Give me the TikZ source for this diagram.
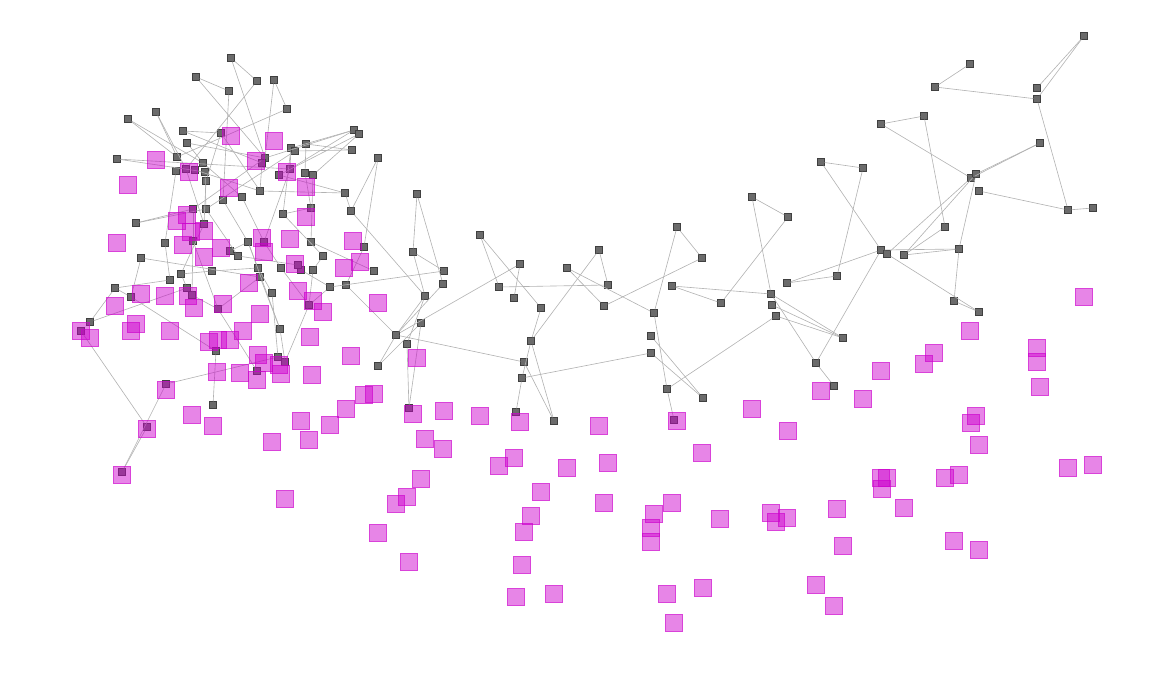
\documentclass[tikz,border=0pt]{standalone}
\usepackage{tikz}
\tikzset{%
    gvtx/.style={inner sep=0pt,minimum size=0.13cm,rectangle,fill=black!58,draw=black!75,line width=0.5pt},
    pvtx/.style={inner sep=0pt,minimum size=0.35cm,rectangle,fill={rgb,255:red,204;green,0;blue,204},fill opacity=0.48,draw={rgb,255:red,204;green,0;blue,204},draw opacity=0.5,line width=0.6pt}
}
\begin{document}
\begin{tikzpicture}[x=0.02cm,y=-0.02cm]
        \useasboundingbox (0,0) rectangle (1152,678);
        % left cluster
        \node[gvtx] (g1) at (231,58){}; \node[gvtx] (g2) at (196,77){}; \node[gvtx] (g3) at (257,81){};
        \node[gvtx] (g4) at (274,80){}; \node[gvtx] (g5) at (229,91){}; \node[gvtx] (g6) at (287,109){};
        \node[gvtx] (g7) at (156,112){}; \node[gvtx] (g8) at (128,119){}; \node[gvtx] (g9) at (183,131){};
        \node[gvtx] (g10) at (221,133){}; \node[gvtx] (g11) at (354,130){}; \node[gvtx] (g12) at (359,134){};
        \node[gvtx] (g13) at (187,143){}; \node[gvtx] (g14) at (306,144){}; \node[gvtx] (g15) at (291,148){};
        \node[gvtx] (g16) at (295,151){}; \node[gvtx] (g17) at (352,150){}; \node[gvtx] (g18) at (117,159){};
        \node[gvtx] (g19) at (177,157){}; \node[gvtx] (g20) at (203,163){}; \node[gvtx] (g21) at (265,158){};
        \node[gvtx] (g22) at (378,158){}; \node[gvtx] (g23) at (262,163){}; \node[gvtx] (g24) at (186,169){};
        \node[gvtx] (g25) at (195,170){}; \node[gvtx] (g26) at (176,171){}; \node[gvtx] (g27) at (205,172){};
        \node[gvtx] (g28) at (290,169){}; \node[gvtx] (g29) at (279,175){}; \node[gvtx] (g30) at (305,173){};
        \node[gvtx] (g31) at (313,175){}; \node[gvtx] (g32) at (206,181){}; \node[gvtx] (g33) at (260,191){};
        \node[gvtx] (g34) at (345,193){}; \node[gvtx] (g35) at (223,200){}; \node[gvtx] (g36) at (242,197){};
        \node[gvtx] (g37) at (417,194){}; \node[gvtx] (g38) at (193,209){}; \node[gvtx] (g39) at (206,209){};
        \node[gvtx] (g40) at (311,208){}; \node[gvtx] (g41) at (283,214){}; \node[gvtx] (g42) at (351,211){};
        \node[gvtx] (g43) at (136,223){}; \node[gvtx] (g44) at (204,224){}; \node[gvtx] (g45) at (165,243){};
        \node[gvtx] (g46) at (193,241){}; \node[gvtx] (g47) at (248,242){}; \node[gvtx] (g48) at (264,242){};
        \node[gvtx] (g49) at (311,242){}; \node[gvtx] (g50) at (364,247){}; \node[gvtx] (g51) at (141,258){};
        \node[gvtx] (g52) at (238,256){}; \node[gvtx] (g53) at (323,256){}; \node[gvtx] (g54) at (413,252){};
        \node[gvtx] (g55) at (258,268){}; \node[gvtx] (g56) at (281,268){}; \node[gvtx] (g57) at (301,270){};
        \node[gvtx] (g58) at (313,270){}; \node[gvtx] (g59) at (298,265){}; \node[gvtx] (g60) at (374,271){};
        \node[gvtx] (g61) at (181,274){}; \node[gvtx] (g62) at (170,280){}; \node[gvtx] (g63) at (260,277){};
        \node[gvtx] (g64) at (346,285){}; \node[gvtx] (g65) at (330,287){}; \node[gvtx] (g66) at (115,288){};
        \node[gvtx] (g67) at (187,288){}; \node[gvtx] (g68) at (272,293){}; \node[gvtx] (g69) at (131,297){};
        \node[gvtx] (g70) at (192,295){}; \node[gvtx] (g71) at (425,296){}; \node[gvtx] (g72) at (444,271){};
        \node[gvtx] (g73) at (443,284){}; \node[gvtx] (g74) at (309,305){}; \node[gvtx] (g75) at (218,309){};
        \node[gvtx] (g76) at (90,322){}; \node[gvtx] (g77) at (81,331){}; \node[gvtx] (g78) at (280,329){};
        \node[gvtx] (g79) at (396,335){}; \node[gvtx] (g80) at (421,323){}; \node[gvtx] (g81) at (407,344){};
        \node[gvtx] (g82) at (216,351){}; \node[gvtx] (g83) at (378,366){}; \node[gvtx] (g84) at (278,357){};
        \node[gvtx] (g85) at (285,362){}; \node[gvtx] (g86) at (257,371){}; \node[gvtx] (g87) at (166,384){};
        \node[gvtx] (g88) at (213,405){}; \node[gvtx] (g89) at (409,408){}; \node[gvtx] (g90) at (147,427){};
        \node[gvtx] (g91) at (122,472){}; \node[gvtx] (g148) at (230,251){}; \node[gvtx] (g149) at (212,271){};
        % middle
        \node[gvtx] (g92) at (480,235){}; \node[gvtx] (g93) at (520,264){}; \node[gvtx] (g94) at (499,287){};
        \node[gvtx] (g95) at (514,298){}; \node[gvtx] (g96) at (541,308){}; \node[gvtx] (g97) at (531,341){};
        \node[gvtx] (g98) at (524,362){}; \node[gvtx] (g99) at (522,378){}; \node[gvtx] (g100) at (516,412){};
        \node[gvtx] (g101) at (554,421){}; \node[gvtx] (g102) at (567,268){}; \node[gvtx] (g103) at (599,250){};
        \node[gvtx] (g104) at (608,285){}; \node[gvtx] (g105) at (604,306){}; \node[gvtx] (g106) at (677,227){};
        \node[gvtx] (g107) at (702,258){}; \node[gvtx] (g108) at (672,286){}; \node[gvtx] (g109) at (654,313){};
        \node[gvtx] (g110) at (651,336){}; \node[gvtx] (g111) at (651,353){}; \node[gvtx] (g112) at (667,389){};
        \node[gvtx] (g113) at (703,398){}; \node[gvtx] (g114) at (674,420){}; \node[gvtx] (g115) at (721,303){};
        % right
        \node[gvtx] (g116) at (752,197){}; \node[gvtx] (g117) at (788,217){}; \node[gvtx] (g118) at (771,294){};
        \node[gvtx] (g119) at (772,305){}; \node[gvtx] (g120) at (776,316){}; \node[gvtx] (g121) at (787,283){};
        \node[gvtx] (g122) at (837,276){}; \node[gvtx] (g123) at (843,338){}; \node[gvtx] (g124) at (816,363){};
        \node[gvtx] (g125) at (834,386){}; \node[gvtx] (g126) at (821,162){}; \node[gvtx] (g127) at (863,168){};
        \node[gvtx] (g128) at (881,250){}; \node[gvtx] (g129) at (887,254){}; \node[gvtx] (g130) at (904,255){};
        \node[gvtx] (g131) at (959,249){}; \node[gvtx] (g132) at (945,227){}; \node[gvtx] (g133) at (954,301){};
        \node[gvtx] (g134) at (979,312){}; \node[gvtx] (g135) at (881,124){}; \node[gvtx] (g136) at (924,116){};
        \node[gvtx] (g137) at (971,178){}; \node[gvtx] (g138) at (976,174){}; \node[gvtx] (g139) at (979,191){};
        \node[gvtx] (g140) at (1040,143){}; \node[gvtx] (g141) at (1068,210){}; \node[gvtx] (g142) at (1093,208){};
        \node[gvtx] (g143) at (935,87){}; \node[gvtx] (g144) at (970,64){}; \node[gvtx] (g145) at (1037,88){};
        \node[gvtx] (g146) at (1037,99){}; \node[gvtx] (g147) at (1084,36){};
        \path[every edge/.style={draw=black!30,line width=0.35pt}]
            (g1) edge (g3) (g1) edge (g21) (g2) edge (g5) (g2) edge (g21) (g3) edge (g24)
            (g4) edge (g6) (g4) edge (g21) (g5) edge (g35) (g6) edge (g19) (g7) edge (g19)
            (g7) edge (g24) (g8) edge (g19) (g8) edge (g20) (g9) edge (g10) (g9) edge (g23)
            (g10) edge (g32) (g11) edge (g15) (g11) edge (g28) (g11) edge (g21) (g12) edge (g29)
            (g12) edge (g31) (g14) edge (g30) (g15) edge (g28) (g16) edge (g17) (g13) edge (g21)
            (g18) edge (g27) (g18) edge (g28) (g22) edge (g42) (g22) edge (g50) (g37) edge (g54)
            (g37) edge (g73) (g54) edge (g71) (g54) edge (g72) (g42) edge (g71) (g43) edge (g38)
            (g43) edge (g39) (g51) edge (g63) (g51) edge (g69) (g66) edge (g76) (g76) edge (g67)
            (g66) edge (g69) (g69) edge (g82) (g82) edge (g88) (g87) edge (g84) (g87) edge (g91)
            (g90) edge (g91) (g77) edge (g90) (g78) edge (g63) (g79) edge (g83) (g80) edge (g83)
            (g81) edge (g89) (g80) edge (g89) (g71) edge (g79) (g71) edge (g81) (g72) edge (g65)
            (g50) edge (g64) (g49) edge (g60) (g29) edge (g34) (g33) edge (g34) (g40) edge (g41)
            (g41) edge (g53) (g20) edge (g36) (g25) edge (g33) (g26) edge (g45) (g27) edge (g39)
            (g32) edge (g44) (g35) edge (g47) (g36) edge (g48) (g38) edge (g46) (g39) edge (g52)
            (g44) edge (g61) (g45) edge (g62) (g46) edge (g70) (g47) edge (g55) (g48) edge (g56)
            (g52) edge (g59) (g53) edge (g58) (g55) edge (g68) (g56) edge (g74) (g57) edge (g65)
            (g61) edge (g67) (g62) edge (g66) (g68) edge (g84) (g70) edge (g75) (g75) edge (g86)
            (g78) edge (g85) (g74) edge (g65) (g23) edge (g33) (g30) edge (g40) (g31) edge (g49)
            (g14) edge (g17) (g15) edge (g41) (g21) edge (g38) (g24) edge (g44) (g10) edge (g33)
            (g28) edge (g48) (g13) edge (g20) (g16) edge (g39) (g34) edge (g42) (g47) edge (g78)
            (g58) edge (g74) (g85) edge (g74) (g75) edge (g46) (g75) edge (g63) (g148) edge (g52)
            (g149) edge (g61) (g148) edge (g47) (g149) edge (g55) (g73) edge (g79) (g93) edge (g79)
            (g79) edge (g98) (g64) edge (g79)
            (g92) edge (g94) (g92) edge (g96) (g93) edge (g95) (g94) edge (g104) (g96) edge (g97)
            (g97) edge (g103) (g97) edge (g101) (g98) edge (g101) (g99) edge (g100) (g99) edge (g111)
            (g103) edge (g104) (g102) edge (g105) (g102) edge (g109) (g105) edge (g107) (g106) edge (g107)
            (g106) edge (g109) (g109) edge (g112) (g112) edge (g114) (g110) edge (g113) (g111) edge (g113)
            (g108) edge (g115) (g108) edge (g118) (g112) edge (g120) (g97) edge (g99)
            (g126) edge (g127) (g126) edge (g128) (g127) edge (g122) (g116) edge (g117) (g116) edge (g118)
            (g117) edge (g115) (g118) edge (g123) (g119) edge (g123) (g120) edge (g123) (g118) edge (g124)
            (g124) edge (g125) (g124) edge (g128) (g121) edge (g122) (g121) edge (g128) (g128) edge (g131)
            (g130) edge (g132) (g130) edge (g138) (g129) edge (g137) (g129) edge (g134) (g131) edge (g133)
            (g138) edge (g131) (g133) edge (g134) (g132) edge (g136) (g135) edge (g137) (g135) edge (g136)
            (g137) edge (g140) (g138) edge (g140) (g139) edge (g141) (g141) edge (g142) (g146) edge (g141)
            (g143) edge (g146) (g143) edge (g144) (g147) edge (g145) (g147) edge (g146) (g130) edge (g131);
        % pink squares
        \node[pvtx] (p1) at (231,136){}; \node[pvtx] (p2) at (274,141){}; \node[pvtx] (p3) at (156,160){};
        \node[pvtx] (p4) at (256,161){}; \node[pvtx] (p5) at (287,172){}; \node[pvtx] (p6) at (189,172){};
        \node[pvtx] (p7) at (128,185){}; \node[pvtx] (p8) at (229,188){}; \node[pvtx] (p9) at (306,187){};
        \node[pvtx] (p10) at (187,215){}; \node[pvtx] (p11) at (177,221){}; \node[pvtx] (p12) at (306,217){};
        \node[pvtx] (p13) at (204,231){}; \node[pvtx] (p14) at (191,232){}; \node[pvtx] (p15) at (117,243){};
        \node[pvtx] (p16) at (183,245){}; \node[pvtx] (p17) at (262,238){}; \node[pvtx] (p18) at (290,239){};
        \node[pvtx] (p19) at (353,241){}; \node[pvtx] (p20) at (204,257){}; \node[pvtx] (p21) at (264,252){};
        \node[pvtx] (p22) at (221,248){}; \node[pvtx] (p23) at (360,262){}; \node[pvtx] (p24) at (344,268){};
        \node[pvtx] (p25) at (295,264){}; \node[pvtx] (p26) at (249,283){}; \node[pvtx] (p27) at (141,294){};
        \node[pvtx] (p28) at (165,296){}; \node[pvtx] (p29) at (194,308){}; \node[pvtx] (p30) at (298,291){};
        \node[pvtx] (p31) at (115,306){}; \node[pvtx] (p32) at (223,304){}; \node[pvtx] (p33) at (313,301){};
        \node[pvtx] (p34) at (188,296){}; \node[pvtx] (p35) at (323,312){}; \node[pvtx] (p36) at (378,303){};
        \node[pvtx] (p37) at (260,314){}; \node[pvtx] (p38) at (136,324){}; \node[pvtx] (p39) at (81,331){};
        \node[pvtx] (p40) at (131,331){}; \node[pvtx] (p41) at (170,331){}; \node[pvtx] (p42) at (90,338){};
        \node[pvtx] (p43) at (218,340){}; \node[pvtx] (p44) at (243,331){}; \node[pvtx] (p45) at (310,337){};
        \node[pvtx] (p46) at (209,342){}; \node[pvtx] (p47) at (230,340){}; \node[pvtx] (p48) at (417,358){};
        \node[pvtx] (p49) at (351,356){}; \node[pvtx] (p50) at (258,355){}; \node[pvtx] (p51) at (264,363){};
        \node[pvtx] (p52) at (279,365){}; \node[pvtx] (p53) at (281,374){}; \node[pvtx] (p54) at (217,372){};
        \node[pvtx] (p55) at (240,373){}; \node[pvtx] (p56) at (257,380){}; \node[pvtx] (p57) at (312,375){};
        \node[pvtx] (p58) at (166,390){}; \node[pvtx] (p59) at (374,394){}; \node[pvtx] (p60) at (364,395){};
        \node[pvtx] (p61) at (346,409){}; \node[pvtx] (p62) at (147,429){}; \node[pvtx] (p63) at (192,415){};
        \node[pvtx] (p64) at (213,426){}; \node[pvtx] (p65) at (301,421){}; \node[pvtx] (p66) at (330,425){};
        \node[pvtx] (p67) at (272,442){}; \node[pvtx] (p68) at (309,440){}; \node[pvtx] (p69) at (413,414){};
        \node[pvtx] (p70) at (444,411){}; \node[pvtx] (p71) at (480,416){}; \node[pvtx] (p72) at (425,439){};
        \node[pvtx] (p73) at (443,449){}; \node[pvtx] (p74) at (122,475){}; \node[pvtx] (p75) at (285,499){};
        \node[pvtx] (p76) at (421,479){}; \node[pvtx] (p77) at (407,497){}; \node[pvtx] (p78) at (396,504){};
        \node[pvtx] (p79) at (378,533){}; \node[pvtx] (p80) at (409,562){};
        \node[pvtx] (p81) at (520,422){}; \node[pvtx] (p82) at (599,426){}; \node[pvtx] (p83) at (677,421){};
        \node[pvtx] (p84) at (514,458){}; \node[pvtx] (p85) at (499,466){}; \node[pvtx] (p86) at (567,468){};
        \node[pvtx] (p87) at (608,463){}; \node[pvtx] (p88) at (702,453){}; \node[pvtx] (p89) at (541,492){};
        \node[pvtx] (p90) at (604,503){}; \node[pvtx] (p91) at (672,503){}; \node[pvtx] (p92) at (654,514){};
        \node[pvtx] (p93) at (651,528){}; \node[pvtx] (p94) at (651,542){}; \node[pvtx] (p95) at (720,519){};
        \node[pvtx] (p96) at (531,516){}; \node[pvtx] (p97) at (524,532){}; \node[pvtx] (p98) at (522,565){};
        \node[pvtx] (p99) at (516,597){}; \node[pvtx] (p100) at (554,594){}; \node[pvtx] (p101) at (667,594){};
        \node[pvtx] (p102) at (703,588){}; \node[pvtx] (p103) at (674,623){};
        \node[pvtx] (p104) at (821,391){}; \node[pvtx] (p105) at (863,399){}; \node[pvtx] (p106) at (752,409){};
        \node[pvtx] (p107) at (788,431){}; \node[pvtx] (p108) at (881,371){}; \node[pvtx] (p109) at (924,364){};
        \node[pvtx] (p110) at (934,353){}; \node[pvtx] (p111) at (970,331){}; \node[pvtx] (p112) at (1037,348){};
        \node[pvtx] (p113) at (1037,362){}; \node[pvtx] (p114) at (1040,387){}; \node[pvtx] (p115) at (1084,297){};
        \node[pvtx] (p116) at (976,416){}; \node[pvtx] (p117) at (971,423){}; \node[pvtx] (p118) at (979,445){};
        \node[pvtx] (p119) at (1068,468){}; \node[pvtx] (p120) at (1093,465){}; \node[pvtx] (p121) at (959,475){};
        \node[pvtx] (p122) at (945,478){}; \node[pvtx] (p123) at (887,478){}; \node[pvtx] (p124) at (882,489){};
        \node[pvtx] (p125) at (881,478){}; \node[pvtx] (p126) at (904,508){}; \node[pvtx] (p127) at (837,509){};
        \node[pvtx] (p128) at (843,546){}; \node[pvtx] (p129) at (771,513){}; \node[pvtx] (p130) at (787,518){};
        \node[pvtx] (p131) at (776,522){}; \node[pvtx] (p132) at (954,541){}; \node[pvtx] (p133) at (979,550){};
        \node[pvtx] (p134) at (816,585){}; \node[pvtx] (p135) at (834,606){};
    \end{tikzpicture}
\end{document}
